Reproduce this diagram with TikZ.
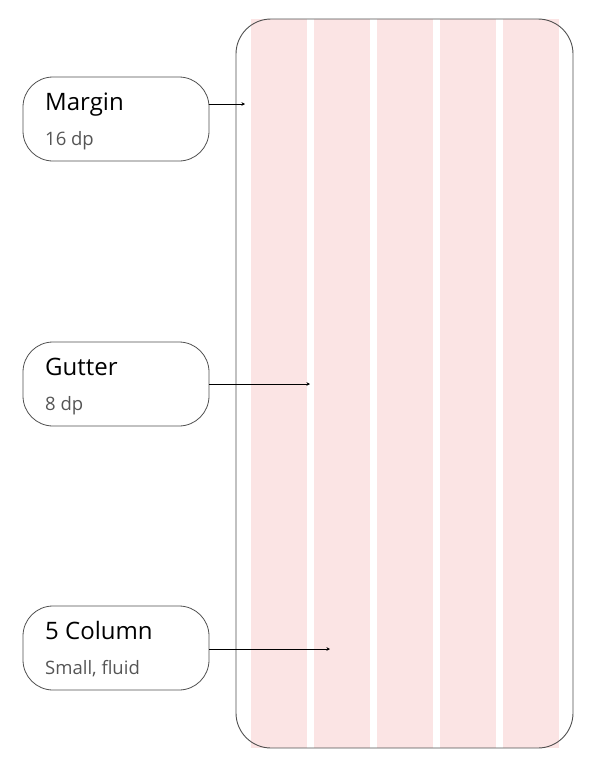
\documentclass[tikz,border=0pt]{standalone}
\usepackage{fontspec}
\setmainfont{Open Sans}
\usetikzlibrary{arrows.meta}
\definecolor{colpink}{HTML}{FBE4E4}
\definecolor{subgray}{HTML}{555555}
\definecolor{framegray}{HTML}{505050}
\tikzset{
  labelbox/.style={draw=framegray, rounded corners=30pt, minimum width=186pt, minimum height=84pt, line width=0.8pt},
  title/.style={anchor=base west, inner sep=0pt, font=\fontsize{24}{28}\selectfont},
  sub/.style={anchor=base west, inner sep=0pt, text=subgray, font=\fontsize{18.5}{22}\selectfont},
  pointer/.style={-{Stealth[length=3.5pt,width=3.5pt]}, line width=0.8pt}
}
\begin{document}
\begin{tikzpicture}[x=1pt,y=-1pt]
\useasboundingbox (0,0) rectangle (604,766);

% columns
\foreach \x in {250.5,313.5,376.5,439.5,502.5}
  \fill[colpink] (\x,19) rectangle ++(56,729);

% phone
\draw[framegray, line width=0.9pt, rounded corners=35pt] (236,19) rectangle (573,748);

% labels
\node[labelbox] (margin) at (116,119) {};
\node[title] (margintitle) at (45,110) {Margin};
\node[sub] (marginsub) at (45,145) {16 dp};

\node[labelbox] (gutter) at (116,384) {};
\node[title] (guttertitle) at (45,375) {Gutter};
\node[sub] (guttersub) at (45,410) {8 dp};

\node[labelbox] (column) at (116,648) {};
\node[title] (columntitle) at (45,639) {5 Column};
\node[sub] (columnsub) at (45,674) {Small, fluid};

\coordinate (m) at (245,104);
\coordinate (g) at (310,384);
\coordinate (c) at (330,649);

\draw[pointer] (margin.east |- m) -- (m);
\draw[pointer] (gutter.east) -- (g);
\draw[pointer] (column.east |- c) -- (c);

\end{tikzpicture}
\end{document}
